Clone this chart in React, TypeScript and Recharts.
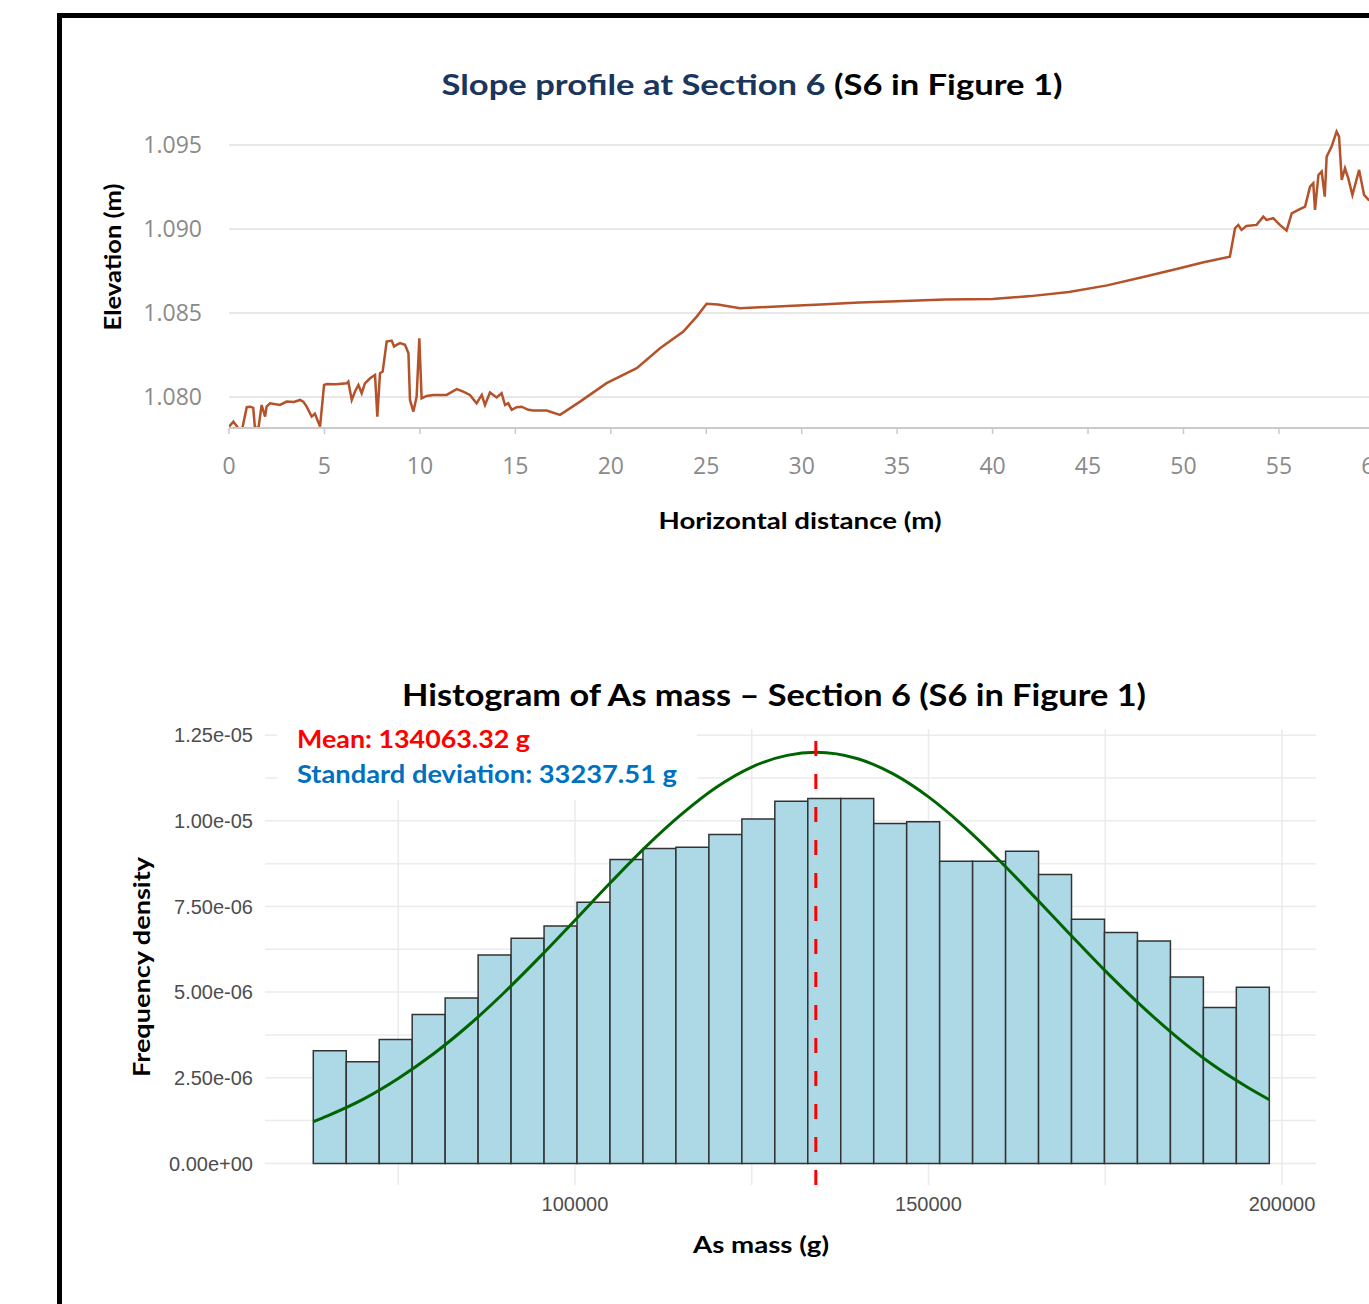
import {
  LineChart,
  Line,
  XAxis,
  YAxis,
  CartesianGrid,
  ComposedChart,
  ReferenceArea,
  ReferenceLine,
} from "recharts";

// slope profile (m)
const profileDistance = [
  0, 0.23, 0.49, 0.7, 0.93, 1.1, 1.27, 1.36, 1.55, 1.71, 1.89, 1.97, 2.15, 2.67, 3.02, 3.4, 3.72, 3.89,
  4.07, 4.33, 4.5, 4.77, 4.98, 5.12, 5.6, 6.17, 6.25, 6.43, 6.6, 6.78, 6.95, 7.12, 7.39, 7.65, 7.77, 7.91,
  8.05, 8.26, 8.52, 8.65, 8.78, 8.96, 9.22, 9.4, 9.48, 9.66, 9.83, 9.97, 10.09, 10.36, 10.7, 11.4, 11.93,
  12.27, 12.62, 12.97, 13.24, 13.41, 13.67, 14.02, 14.28, 14.46, 14.63, 14.81, 15.07, 15.33, 15.68, 15.94,
  16.64, 17.34, 18.39, 19.78, 21.36, 22.58, 23.8, 24.5, 25.02, 25.6, 26.77, 27.82, 29.54, 31.0, 33.0, 35.0,
  37.5, 40.0, 42.0, 44.0, 46.0, 48.0, 49.8, 51.0, 52.43, 52.7, 52.87, 53.04, 53.3, 53.83, 54.18, 54.35,
  54.7, 55.05, 55.4, 55.67, 56.02, 56.37, 56.63, 56.8, 56.89, 57.07, 57.24, 57.4, 57.5, 57.76, 58.02, 58.15,
  58.29, 58.46, 58.63, 58.85, 59.2, 59.46, 59.7, 60.2, 61.0,
];
const profileElevation = [
  1.07823, 1.07853, 1.07814, 1.07814, 1.07939, 1.07942, 1.07935, 1.07814, 1.0782, 1.07952, 1.07883, 1.07942,
  1.07962, 1.07952, 1.07972, 1.0797, 1.07982, 1.07972, 1.07942, 1.07883, 1.079, 1.07823, 1.08071, 1.08077,
  1.08075, 1.08081, 1.08091, 1.07982, 1.08032, 1.08071, 1.08022, 1.08081, 1.08111, 1.08131, 1.07883, 1.08141,
  1.08151, 1.08329, 1.08335, 1.083, 1.0831, 1.0832, 1.0831, 1.0826, 1.07982, 1.07913, 1.08002, 1.08349,
  1.07992, 1.08006, 1.08012, 1.08012, 1.08046, 1.08032, 1.08012, 1.07962, 1.08012, 1.07952, 1.08026, 1.07997,
  1.08022, 1.07952, 1.07962, 1.07923, 1.07939, 1.07942, 1.07923, 1.07919, 1.07919, 1.07893, 1.07972, 1.08082,
  1.08171, 1.0829, 1.08389, 1.08478, 1.08554, 1.0855, 1.08528, 1.08534, 1.08542, 1.0855, 1.08562, 1.0857,
  1.0858, 1.08583, 1.086, 1.08625, 1.08664, 1.08717, 1.08766, 1.088, 1.08835, 1.09004, 1.09024, 1.08994,
  1.09018, 1.09024, 1.09073, 1.09054, 1.09064, 1.09024, 1.0899, 1.09093, 1.09113, 1.09133, 1.09252, 1.09272,
  1.09113, 1.09321, 1.09341, 1.09192, 1.0943, 1.0949, 1.09579, 1.09549, 1.09292, 1.09361, 1.09302, 1.09202,
  1.09351, 1.09202, 1.09173, 1.0915, 1.0912,
];
const profileXTicks = [0, 5, 10, 15, 20, 25, 30, 35, 40, 45, 50, 55, 60];
const profileYTicks = [1.08, 1.085, 1.09, 1.095];

// histogram of As mass
const binEdges = [
  62984, 67647, 72310, 76972, 81635, 86298, 90961, 95624, 100287, 104950, 109612, 114275, 118938, 123601,
  128264, 132927, 137590, 142252, 146915, 151578, 156241, 160904, 165567, 170230, 174892, 179555, 184218,
  188881, 193544, 198207,
];
const binDensity = [
  3.29, 2.97, 3.62, 4.35, 4.83, 6.08, 6.57, 6.93, 7.62, 8.87, 9.19, 9.23, 9.6, 10.05, 10.57, 10.65, 10.65,
  9.92, 9.97, 8.82, 8.82, 9.11, 8.43, 7.13, 6.74, 6.49, 5.44, 4.55, 5.14,
]; // x 1e-6
const curveMass = [
  62984, 65000, 70000, 75000, 80000, 85000, 90000, 95000, 100000, 105000, 110000, 115000, 120000, 125000,
  130000, 134063, 140000, 145000, 150000, 155000, 160000, 165000, 170000, 175000, 180000, 185000, 190000,
  195000, 198207,
];
const curveDensity = [
  1.22, 1.39, 1.87, 2.48, 3.2, 4.04, 4.99, 6.02, 7.1, 8.19, 9.24, 10.18, 10.98, 11.57, 11.91, 12.0, 11.81,
  11.37, 10.7, 9.84, 8.85, 7.78, 6.69, 5.62, 4.62, 3.71, 2.91, 2.24, 1.86,
]; // x 1e-6
const histXTicks = [100000, 150000, 200000];
const histYTicks = [0, 2.5e-6, 5e-6, 7.5e-6, 1e-5, 1.25e-5];
const histYLabels = ["0.00e+00", "2.50e-06", "5.00e-06", "7.50e-06", "1.00e-05", "1.25e-05"];
const histGridX = [75000, 100000, 125000, 150000, 175000, 200000];
const histGridY = [0, 1.25e-6, 2.5e-6, 3.75e-6, 5e-6, 6.25e-6, 7.5e-6, 8.75e-6, 1e-5, 1.125e-5, 1.25e-5];
const meanMass = 134063.32;

const profileData = profileDistance.map((d, i) => ({ d, z: profileElevation[i] }));
const curveData = curveMass.map((m, i) => ({ m, f: curveDensity[i] * 1e-6 }));

const BOLD = "Lato, 'Noto Sans', sans-serif";

export default function App() {
  return (
    <div
      style={{
        position: "absolute",
        left: 0,
        top: 0,
        width: 1369,
        height: 1304,
        overflow: "hidden",
        background: "#fff",
      }}
    >
      <div
        style={{
          position: "absolute",
          left: 57,
          top: 13,
          width: 1400,
          height: 1400,
          border: "5px solid #000",
          boxSizing: "border-box",
        }}
      />

      <div style={{ position: "absolute", left: 0, top: 0 }}>
        <LineChart
          width={1450}
          height={560}
          data={profileData}
          margin={{ top: 120, right: 51, bottom: 72, left: 129 }}
        >
          <CartesianGrid
            vertical={false}
            horizontalValues={profileYTicks}
            stroke="#e8e8e8"
            strokeWidth={2}
          />
          <XAxis
            dataKey="d"
            type="number"
            domain={[0, 61.29]}
            allowDataOverflow
            ticks={profileXTicks}
            interval={0}
            height={60}
            axisLine={{ stroke: "#cacaca", strokeWidth: 2 }}
            tickLine={{ stroke: "#cacaca", strokeWidth: 1.5 }}
            tickSize={6}
            tickMargin={24}
            tick={{ fill: "#8a8a8a", fontSize: 23, fontFamily: "'Open Sans', sans-serif" }}
          />
          <YAxis
            type="number"
            domain={[1.07815, 1.096483]}
            allowDataOverflow
            ticks={profileYTicks}
            interval={0}
            width={100}
            axisLine={false}
            tickLine={false}
            tickSize={0}
            tickMargin={27}
            tickFormatter={(v: number) => v.toFixed(3)}
            tick={{ fill: "#8a8a8a", fontSize: 23, fontFamily: "'Open Sans', sans-serif" }}
          />
          <Line
            dataKey="z"
            type="linear"
            stroke="#b4522a"
            strokeWidth={2.5}
            dot={false}
            isAnimationActive={false}
          />
        </LineChart>
      </div>

      <div style={{ position: "absolute", left: 0, top: 600 }}>
        <ComposedChart
          width={1369}
          height={704}
          data={curveData}
          margin={{ top: 129, right: 53, bottom: 79, left: 145 }}
        >
          <CartesianGrid
            stroke="#ebebeb"
            strokeWidth={1.5}
            horizontalValues={histGridY}
            verticalValues={histGridX}
          />
          <XAxis
            dataKey="m"
            type="number"
            domain={[56153, 204809]}
            allowDataOverflow
            ticks={histXTicks}
            interval={0}
            height={40}
            axisLine={false}
            tickLine={false}
            tickSize={0}
            tickMargin={12}
            tick={{ fill: "#4d4d4d", fontSize: 20, fontFamily: "'Liberation Sans', Arial, sans-serif" }}
          />
          <YAxis
            type="number"
            domain={[-0.63e-6, 12.68e-6]}
            allowDataOverflow
            ticks={histYTicks}
            interval={0}
            width={120}
            axisLine={false}
            tickLine={false}
            tickSize={0}
            tickMargin={12}
            tickFormatter={(v: number) => histYLabels[histYTicks.indexOf(v)] ?? ""}
            tick={{ fill: "#4d4d4d", fontSize: 20, fontFamily: "'Liberation Sans', Arial, sans-serif" }}
          />
          {binDensity.map((d, i) => (
            <ReferenceArea
              key={i}
              x1={binEdges[i]}
              x2={binEdges[i + 1]}
              y1={0}
              y2={d * 1e-6}
              fill="#add8e6"
              fillOpacity={1}
              stroke="#333333"
              strokeWidth={1.5}
            />
          ))}
          <Line
            dataKey="f"
            type="monotone"
            stroke="#006400"
            strokeWidth={3}
            dot={false}
            isAnimationActive={false}
          />
          <ReferenceLine x={meanMass} stroke="#ff0000" strokeWidth={3} strokeDasharray="15 18" />
        </ComposedChart>
      </div>

      <svg
        width={1369}
        height={1304}
        style={{ position: "absolute", left: 0, top: 0, pointerEvents: "none" }}
      >
        <defs>
          <clipPath id="histTitleClip">
            <rect x={0} y={600} width={1369} height={111} />
          </clipPath>
        </defs>
        <text
          x={752}
          y={95}
          textAnchor="middle"
          fontFamily={BOLD}
          fontWeight={700}
          fontSize={29}
          textLength={621}
          lengthAdjust="spacingAndGlyphs"
        >
          <tspan fill="#1b365d">Slope profile at Section 6 </tspan>
          <tspan fill="#000">(S6 in Figure 1)</tspan>
        </text>
        <text
          x={800}
          y={529}
          textAnchor="middle"
          fontFamily={BOLD}
          fontWeight={700}
          fontSize={22}
          textLength={283}
          lengthAdjust="spacingAndGlyphs"
        >
          Horizontal distance (m)
        </text>
        <text
          transform="translate(121,257) rotate(-90)"
          textAnchor="middle"
          fontFamily={BOLD}
          fontWeight={700}
          fontSize={22}
          textLength={147}
          lengthAdjust="spacingAndGlyphs"
        >
          Elevation (m)
        </text>

        <rect x={277} y={712} width={420} height={88} fill="#fff" />
        <text
          x={774}
          y={706}
          textAnchor="middle"
          fontFamily={BOLD}
          fontWeight={700}
          fontSize={30}
          textLength={744}
          lengthAdjust="spacingAndGlyphs"
          clipPath="url(#histTitleClip)"
        >
          Histogram of As mass – Section 6 (S6 in Figure 1)
        </text>
        <text
          x={297}
          y={748}
          fill="#ff0000"
          fontFamily={BOLD}
          fontWeight={700}
          fontSize={25}
          textLength={233}
          lengthAdjust="spacingAndGlyphs"
        >
          Mean: 134063.32 g
        </text>
        <text
          x={297}
          y={783}
          fill="#0070c0"
          fontFamily={BOLD}
          fontWeight={700}
          fontSize={25}
          textLength={380}
          lengthAdjust="spacingAndGlyphs"
        >
          Standard deviation: 33237.51 g
        </text>
        <text
          transform="translate(150,967) rotate(-90)"
          textAnchor="middle"
          fontFamily={BOLD}
          fontWeight={700}
          fontSize={23}
          textLength={220}
          lengthAdjust="spacingAndGlyphs"
        >
          Frequency density
        </text>
        <text
          x={761}
          y={1253}
          textAnchor="middle"
          fontFamily={BOLD}
          fontWeight={700}
          fontSize={23}
          textLength={136}
          lengthAdjust="spacingAndGlyphs"
        >
          As mass (g)
        </text>
      </svg>
    </div>
  );
}
